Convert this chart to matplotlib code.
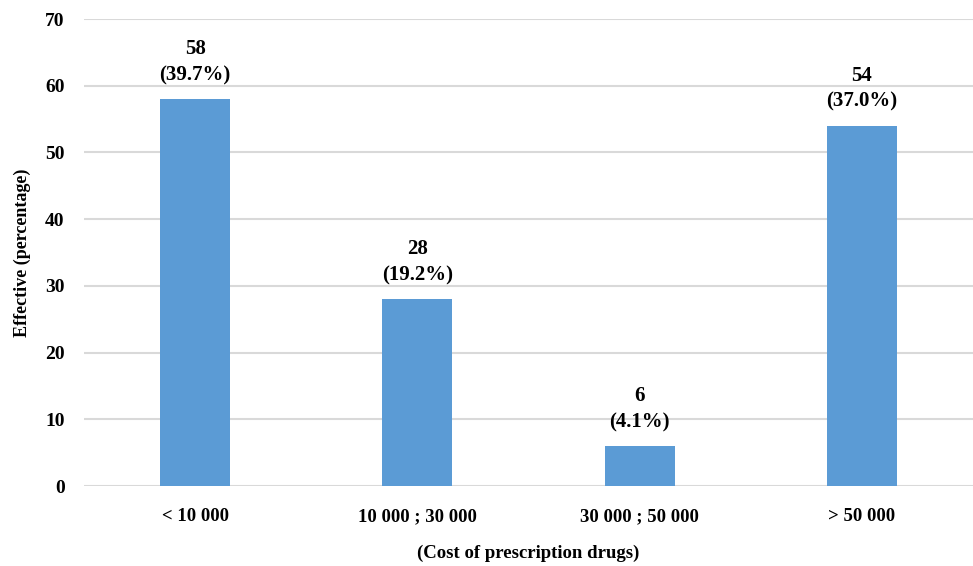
import matplotlib
matplotlib.use("Agg")
import matplotlib.pyplot as plt

# ── data ────────────────────────────────────────────────────────────────────
categories = ["< 10 000", "10 000 ; 30 000", "30 000 ; 50 000", "> 50 000"]
counts = [58, 28, 6, 54]
shares = [39.7, 19.2, 4.1, 37.0]

BAR = "#5B9BD5"
GRID = "#D9D9D9"

plt.rcParams.update({
    "font.family": ["Liberation Serif", "DejaVu Serif"],
    "font.weight": "bold",
})

fig = plt.figure(figsize=(9.73, 5.66), dpi=100)
ax = fig.add_axes([0.0863, 0.1413, 0.9137, 0.8251])

x = range(len(categories))
ax.bar(x, counts, width=0.315, color=BAR, zorder=3)
for xi, (n, s) in enumerate(zip(counts, shares)):
    ax.annotate(f"{n}\n({s:.1f}%)", xy=(xi, n), xytext=(0, 10),
                textcoords="offset points", ha="center", va="bottom",
                fontsize=15, fontweight="bold", linespacing=1.4)

ax.set_xlim(-0.5, 3.5)
ax.set_ylim(0, 70)
ax.set_yticks(range(0, 71, 10))
ax.set_xticks(list(x))
ax.set_xticklabels(categories, fontsize=13.5, fontweight="bold")
ax.tick_params(axis="y", labelsize=14, length=0, pad=14)
ax.tick_params(axis="x", length=0, pad=16)
ax.grid(axis="y", color=GRID, linewidth=1.5, zorder=0)
for sp in ax.spines.values():
    sp.set_visible(False)

ax.set_ylabel("Effective (percentage)", fontsize=13, fontweight="bold", labelpad=10)
ax.set_xlabel("(Cost of prescription drugs)", fontsize=13.5, fontweight="bold", labelpad=14)

plt.savefig("out.png", dpi=100)
plt.close()
